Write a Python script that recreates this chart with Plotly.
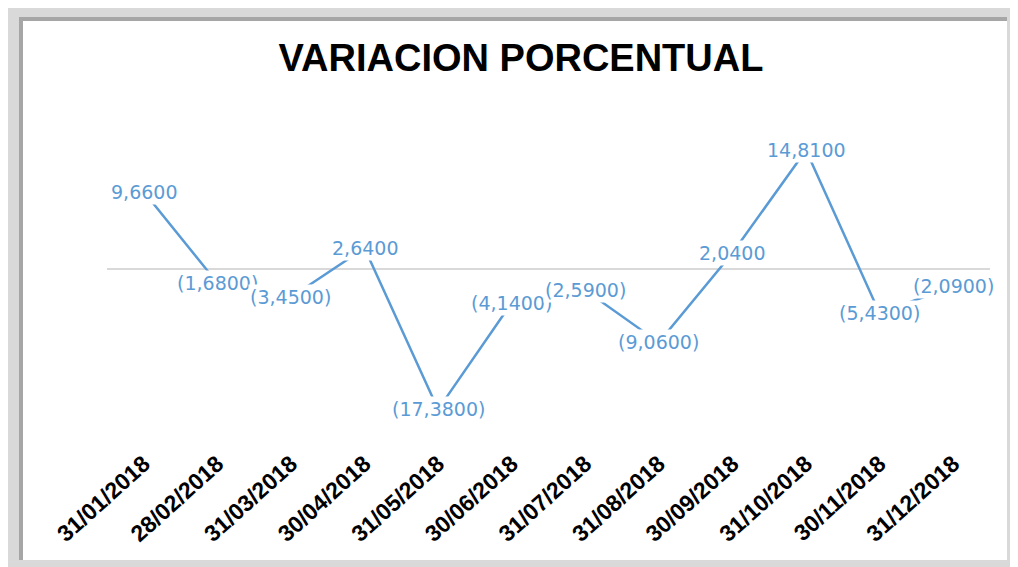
import plotly.graph_objects as go

fechas = ["31/01/2018", "28/02/2018", "31/03/2018", "30/04/2018", "31/05/2018", "30/06/2018",
          "31/07/2018", "31/08/2018", "30/09/2018", "31/10/2018", "30/11/2018", "31/12/2018"]
variacion = [9.66, -1.68, -3.45, 2.64, -17.38, -4.14, -2.59, -9.06, 2.04, 14.81, -5.43, -2.09]
titulo = "VARIACION PORCENTUAL"

OFF = 8  # page body margin
W, H = 1018 - OFF, 567 - OFF
L, R, T, B = 107 - OFF, 28, 110 - OFF, 122
PW, PH = W - L - R, H - T - B
BLUE = "#5B9BD5"


def fmt(v):
    s = f"{abs(v):.4f}".replace(".", ",")
    return f"({s})" if v < 0 else s


def px(x):
    return (x - OFF - L) / PW


def py(y):
    return (H - B - (y - OFF)) / PH


fig = go.Figure()
fig.add_trace(go.Scatter(x=fechas, y=variacion, mode="lines",
                         line=dict(color=BLUE, width=2.5), hoverinfo="skip"))

for f, v in zip(fechas, variacion):
    fig.add_annotation(x=f, y=v, text=fmt(v), showarrow=False, bgcolor="white",
                       borderpad=1, font=dict(family="DejaVu Sans", size=19, color=BLUE))

shapes = [
    dict(type="rect", xref="paper", yref="paper", x0=px(5), x1=px(1030), y0=py(5), y1=py(580),
         fillcolor="#d9d9d9", line=dict(width=0), layer="below"),
    dict(type="rect", xref="paper", yref="paper", x0=px(19), x1=px(1007), y0=py(17), y1=py(560),
         fillcolor="#a6a6a6", line=dict(width=0), layer="below"),
    dict(type="rect", xref="paper", yref="paper", x0=px(23), x1=px(1007), y0=py(21), y1=py(560),
         fillcolor="white", line=dict(width=0), layer="below"),
]

fig.update_layout(
    width=W, height=H,
    margin=dict(l=L, r=R, t=T, b=B, autoexpand=False),
    paper_bgcolor="#f4f4f4", plot_bgcolor="white",
    showlegend=False,
    shapes=shapes,
    title=dict(text=titulo, x=(521 - OFF) / W, xanchor="center", y=1 - (58 - OFF) / H,
               yanchor="middle",
               font=dict(family="Liberation Sans", size=38, color="black", weight="bold")),
    xaxis=dict(type="category", range=[-0.5, 11.5], showgrid=False, zeroline=False,
               showline=False, ticks="", tickangle=-42, automargin=False,
               tickfont=dict(family="Liberation Sans", size=23, color="black", weight="bold")),
    yaxis=dict(range=[-21.8, 19.8], showgrid=False, showticklabels=False, ticks="",
               showline=False, zeroline=True, zerolinecolor="#d9d9d9", zerolinewidth=1.5,
               automargin=False),
)

fig.write_html("out.html")
